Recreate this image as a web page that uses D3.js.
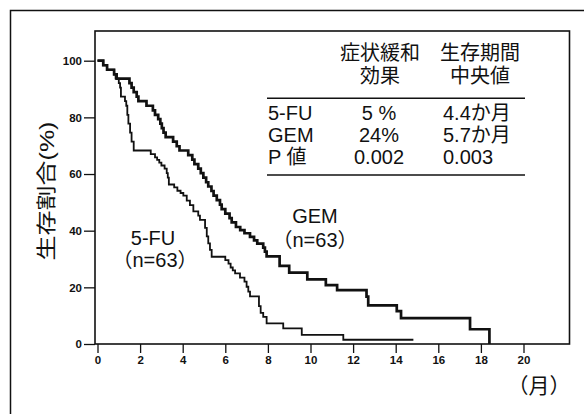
<!DOCTYPE html>
<html>
<head>
    <meta charset="utf-8">
    <title>生存割合</title>
    <script src="https://d3js.org/d3.v7.min.js"></script>
    <style>
      body { margin: 0; background: #fff; }
      text { font-family: "Liberation Sans", "Noto Sans CJK JP", sans-serif; fill: #111; }
      .tick text { font-size: 11.5px; font-weight: bold; }
      .tick line { stroke: #111; stroke-width: 1.3px; }
    </style>
</head>
<body>
    <script>
      // tick values
      var xTicks = [0, 2, 4, 6, 8, 10, 12, 14, 16, 18, 20];
      var yTicks = [0, 20, 40, 60, 80, 100];

      // Kaplan-Meier steps: [month, survival %]
      var gemSteps = [[0,100],[0.27,98.4],[0.45,96.8],[0.78,95.2],[0.9,93.7],[1.5,92.1],[1.6,90.5],[1.7,88.9],
        [1.84,87.3],[1.92,85.7],[2.3,84.1],[2.6,82.5],[2.7,80.9],[2.85,79.4],[2.95,77.8],[3.02,76.2],[3.1,74.6],
        [3.2,73.0],[3.55,71.4],[3.72,69.8],[3.85,68.3],[4.26,66.7],[4.45,65.1],[4.55,63.5],[4.73,61.9],[4.85,60.3],
        [4.97,58.7],[5.1,57.1],[5.2,55.6],[5.35,54.0],[5.45,52.4],[5.6,50.8],[5.75,49.2],[5.83,47.6],[6.0,46.0],
        [6.2,44.4],[6.3,42.9],[6.5,41.3],[6.7,40.2],[6.9,39.1],[7.16,37.8],[7.35,36.6],[7.5,35.4],[7.78,34.0],
        [7.86,32.6],[7.94,30.9],[8.55,27.6],[9.0,25.2],[9.85,22.8],[10.72,20.8],[11.25,19.0],[12.63,16.7],
        [12.71,13.6],[14.05,11.6],[14.25,9.1],[17.49,5.2],[18.4,0]];

      var fuSteps = [[0,100],[0.27,98.4],[0.45,96.8],[0.78,95.2],[0.85,93.7],[1.0,92.1],[1.06,90.5],[1.1,87.3],
        [1.29,85.7],[1.35,84.1],[1.4,80.9],[1.45,77.8],[1.53,74.6],[1.6,71.4],[1.7,68.3],[2.5,67.0],[2.7,65.9],
        [2.8,65.0],[2.9,64.0],[3.0,63.0],[3.15,61.9],[3.25,60.3],[3.3,58.7],[3.35,56.3],[3.6,55.3],[3.75,54.1],
        [3.9,53.3],[4.03,52.4],[4.19,50.6],[4.34,49.0],[4.5,46.8],[4.73,45.3],[4.81,43.8],[5.05,41.0],[5.13,38.0],
        [5.2,35.5],[5.28,33.2],[5.36,30.8],[6.0,29.6],[6.15,28.4],[6.25,27.0],[6.35,26.0],[6.46,24.9],[6.69,23.4],
        [6.9,22.0],[7.0,20.2],[7.08,18.5],[7.16,16.8],[7.58,13.4],[7.66,11.0],[7.78,9.6],[7.94,7.3],[8.72,5.5],
        [9.59,3.2],[11.54,1.5],[14.83,1.5]];

      // summary table
      var tableHead = [["症状緩和", "効果"], ["生存期間", "中央値"]];
      var tableRows = [
        ["5-FU", "5 %", "4.4か月"],
        ["GEM", "24%", "5.7か月"],
        ["P 値", "0.002", "0.003"]
      ];

      var width = 584, height = 414;
      var box = {left: 95, right: 569.5, top: 31, bottom: 344};

      var svg = d3.select("body").append("svg")
          .attr("width", width)
          .attr("height", height);

      // outer frame (left and top edges only)
      svg.append("path")
          .attr("d", "M10.5,414V10.5H584")
          .attr("fill", "none")
          .attr("stroke", "#111")
          .attr("stroke-width", 1.5);

      var x = d3.scaleLinear().domain([0, 20]).range([97.5, 523.5]);
      var y = d3.scaleLinear().domain([0, 100]).range([344, 60.7]);

      // plot box
      svg.append("rect")
          .attr("x", box.left).attr("y", box.top)
          .attr("width", box.right - box.left).attr("height", box.bottom - box.top)
          .attr("fill", "none").attr("stroke", "#111").attr("stroke-width", 1.6);

      svg.append("g")
          .attr("transform", "translate(0," + box.bottom + ")")
          .call(d3.axisBottom(x).tickValues(xTicks).tickSize(9).tickPadding(3))
          .call(function(g) { g.select(".domain").remove(); });

      svg.append("g")
          .attr("transform", "translate(" + box.left + ",0)")
          .call(d3.axisLeft(y).tickValues(yTicks).tickSize(11).tickPadding(2))
          .call(function(g) { g.select(".domain").remove(); });

      // survival curves
      var line = d3.line()
          .x(function(d) { return x(d[0]); })
          .y(function(d) { return y(d[1]); })
          .curve(d3.curveStepAfter);

      svg.append("path").datum(fuSteps)
          .attr("d", line).attr("fill", "none")
          .attr("stroke", "#111").attr("stroke-width", 1.8);

      svg.append("path").datum(gemSteps)
          .attr("d", line).attr("fill", "none")
          .attr("stroke", "#111").attr("stroke-width", 2.7);

      // axis titles
      svg.append("text")
          .attr("transform", "translate(47,191) rotate(-90) scale(1.22,1)")
          .attr("text-anchor", "middle")
          .attr("dy", "0.35em")
          .style("font-size", "20.5px")
          .text("生存割合(%)");

      svg.append("text")
          .attr("x", 539).attr("y", 386).attr("dy", "0.35em")
          .attr("text-anchor", "middle")
          .style("font-size", "21px")
          .text("（月）");

      // curve labels
      var labels = [
        {t: "GEM", x: 315, y: 215.5}, {t: "（n=63）", x: 315, y: 240},
        {t: "5-FU", x: 153, y: 238}, {t: "（n=63）", x: 155, y: 260}
      ];
      svg.selectAll(".lab").data(labels).enter().append("text")
          .attr("class", "lab")
          .attr("x", function(d) { return d.x; })
          .attr("y", function(d) { return d.y; })
          .attr("dy", "0.35em")
          .attr("text-anchor", "middle")
          .style("font-size", "20px")
          .text(function(d) { return d.t; });

      // table
      var tbl = svg.append("g").style("font-size", "20px");
      var headX = [380, 480], headY = [53, 76];
      tableHead.forEach(function(col, i) {
        col.forEach(function(s, j) {
          tbl.append("text").attr("x", headX[i]).attr("y", headY[j]).attr("dy", "0.35em")
              .attr("text-anchor", "middle").text(s);
        });
      });
      var rowY = [112.7, 135, 156.7];
      tableRows.forEach(function(r, i) {
        tbl.append("text").attr("x", 268).attr("y", rowY[i]).attr("dy", "0.35em").text(r[0]);
        tbl.append("text").attr("x", 379).attr("y", rowY[i]).attr("dy", "0.35em")
            .attr("text-anchor", "middle").text(r[1]);
        tbl.append("text").attr("x", 443).attr("y", rowY[i]).attr("dy", "0.35em").text(r[2]);
      });
      [98.3, 175].forEach(function(ly) {
        tbl.append("line").attr("x1", 267).attr("x2", 525).attr("y1", ly).attr("y2", ly)
            .attr("stroke", "#111").attr("stroke-width", 1.6);
      });
    </script>
</body>
</html>
